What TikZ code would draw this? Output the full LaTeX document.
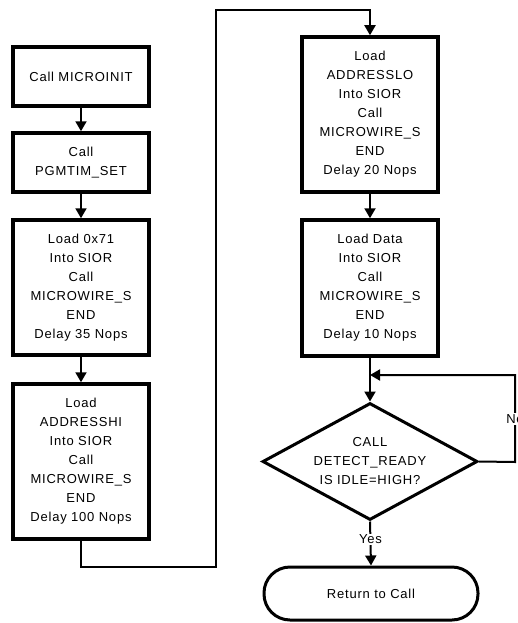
\documentclass[tikz,border=0pt]{standalone}
\usepackage{fontspec}
\setmainfont{Liberation Sans}[LetterSpace=6]
\usetikzlibrary{arrows.meta,shapes.geometric}
\begin{document}
\begin{tikzpicture}[x=1pt,y=-1pt,
  font=\fontsize{13}{19}\selectfont,
  box/.style={draw,line width=3.5pt,rectangle,minimum width=136pt,align=center,inner sep=0pt},
  dec/.style={draw,line width=3pt,diamond,minimum width=215pt,minimum height=117pt,aspect=1.84,align=center,inner sep=0pt},
  term/.style={draw,line width=3pt,rectangle,rounded corners=26pt,minimum width=214pt,minimum height=53pt,inner sep=0pt},
  conn/.style={line width=2pt},
  arr/.style={conn,-{Triangle[length=10pt,width=11pt]}},
  lbl/.style={fill=white,inner sep=1pt}]
\useasboundingbox (0,0) rectangle (517,623);
\node[box,minimum height=59pt] (b1) at (81,76.5) {Call MICROINIT};
\node[box,minimum height=59pt] (b2) at (81,162.5) {Call\\PGMTIM\_SET};
\node[box,minimum height=135pt] (b3) at (81,287.5) {Load 0x71\\Into SIOR\\Call\\MICROWIRE\_S\\END\\Delay 35 Nops};
\node[box,minimum height=155pt] (b4) at (81,461.5) {Load\\ADDRESSHI\\Into SIOR\\Call\\MICROWIRE\_S\\END\\Delay 100 Nops};
\node[box,minimum height=155pt] (b5) at (370,114.5) {Load\\ADDRESSLO\\Into SIOR\\Call\\MICROWIRE\_S\\END\\Delay 20 Nops};
\node[box,minimum height=136pt] (b6) at (370,288) {Load Data\\Into SIOR\\Call\\MICROWIRE\_S\\END\\Delay 10 Nops};
\node[dec] (d) at (370,461.5) {CALL\\DETECT\_READY\\IS IDLE=HIGH?};
\node[term] (t) at (371,593.5) {Return to Call};
\coordinate (j) at (370,375);
\coordinate (r1) at (81,567);
\coordinate (r2) at (216,567);
\coordinate (r3) at (216,10);
\coordinate (r4) at (370,10);
\coordinate (n1) at (515,462);
\coordinate (n2) at (515,375);
\draw[arr] (b1) -- (b2);
\draw[arr] (b2) -- (b3);
\draw[arr] (b3) -- (b4);
\draw[arr] (b4.south) -- (r1) -- (r2) -- (r3) -- (r4) -- (b5.north);
\draw[arr] (b5) -- (b6);
\draw[arr] (b6.south) -- (d.north);
\draw[arr] (d.east) -- (n1) -- (n2) -- (j);
\node[lbl] (no) at (515,419) {No};
\draw[arr] (d.south) -- node[lbl,pos=0.4] (yes) {Yes} (t.north);
\end{tikzpicture}
\end{document}
